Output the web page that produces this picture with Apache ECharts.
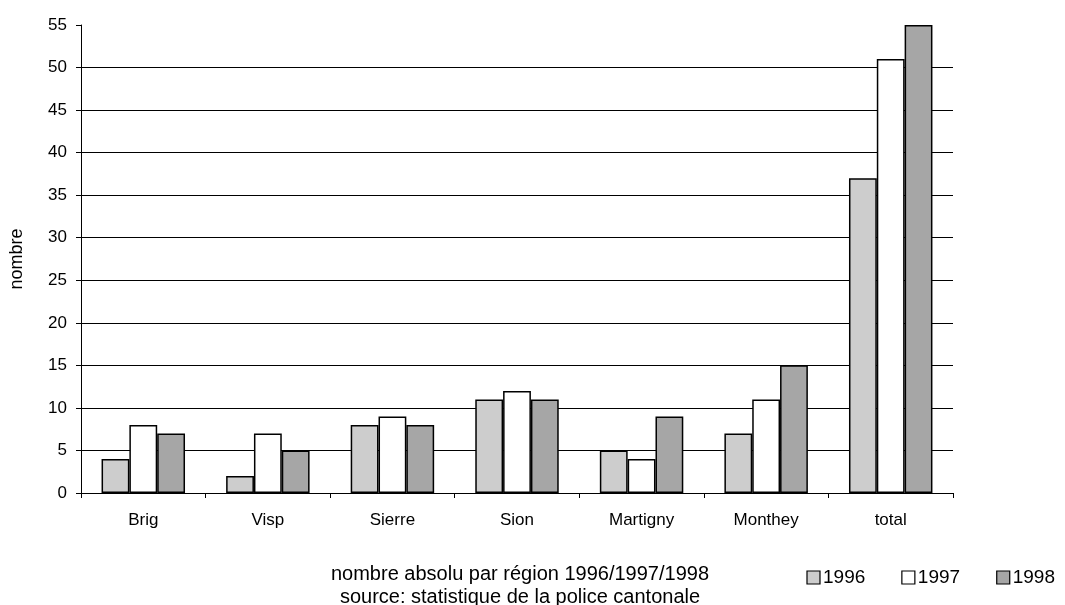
<!DOCTYPE html>
<html>
<head>
<meta charset="utf-8">
<script src="https://cdn.jsdelivr.net/npm/echarts@6/dist/echarts.min.js"></script>
<style>
  html, body { margin: 0; padding: 0; background: #fff; }
  #chart { width: 1065px; height: 605px; }
</style>
</head>
<body>
<div id="chart"></div>
<script>
// regions and yearly counts
const regions = ['Brig', 'Visp', 'Sierre', 'Sion', 'Martigny', 'Monthey', 'total']
const years = ['1996', '1997', '1998']
const values1996 = [4, 2, 8, 11, 5, 7, 37]
const values1997 = [8, 7, 9, 12, 4, 11, 51]
const values1998 = [7, 5, 8, 11, 9, 15, 55]
const yTicks = { min: 0, max: 55, interval: 5 }

const font = 'Liberation Sans, Arial, sans-serif'
const fills = ['#cdcdcd', '#ffffff', '#a6a6a6']
const seriesData = [values1996, values1997, values1998]

let chart = echarts.init(document.getElementById('chart'), null, { renderer: 'canvas' })

let series = years.map((year, i) => ({
  name: year,
  type: 'bar',
  data: seriesData[i],
  barGap: '0%',
  barCategoryGap: '33%',
  itemStyle: { color: fills[i], borderColor: '#000', borderWidth: 1.5 }
}))

chart.setOption({
  animation: false,
  textStyle: { fontFamily: font },
  title: {
    text: 'nombre absolu par région 1996/1997/1998\nsource: statistique de la police cantonale',
    left: 515,
    top: 558,
    textAlign: 'center',
    textStyle: { fontSize: 20, fontWeight: 'normal', color: '#000', lineHeight: 23, fontFamily: font }
  },
  legend: {
    data: years,
    right: 5,
    top: 563,
    itemWidth: 13,
    itemHeight: 13,
    itemGap: 36,
    icon: 'rect',
    textStyle: { fontSize: 19, color: '#000', padding: [0, 0, 0, -2] },
    itemStyle: { borderColor: '#000', borderWidth: 1.2 }
  },
  grid: { left: 81, right: 112, top: 25, bottom: 112, containLabel: false, outerBoundsMode: 'none' },
  xAxis: {
    type: 'category',
    data: regions,
    axisLine: { lineStyle: { color: '#000', width: 1 } },
    axisTick: { show: true, length: 5, lineStyle: { color: '#000' } },
    axisLabel: { color: '#000', fontSize: 17, margin: 19 }
  },
  yAxis: {
    type: 'value',
    min: yTicks.min,
    max: yTicks.max,
    interval: yTicks.interval,
    name: 'nombre',
    nameLocation: 'middle',
    nameGap: 55,
    nameRotate: 90,
    nameTextStyle: { color: '#000', fontSize: 18 },
    axisLine: { show: true, lineStyle: { color: '#000', width: 1 } },
    axisTick: { show: true, length: 5, lineStyle: { color: '#000' } },
    axisLabel: { color: '#000', fontSize: 17, margin: 14 },
    splitLine: {
      show: true,
      lineStyle: { color: '#000', width: 1 },
      showMaxLine: false
    }
  },
  series
})
</script>
</body>
</html>
